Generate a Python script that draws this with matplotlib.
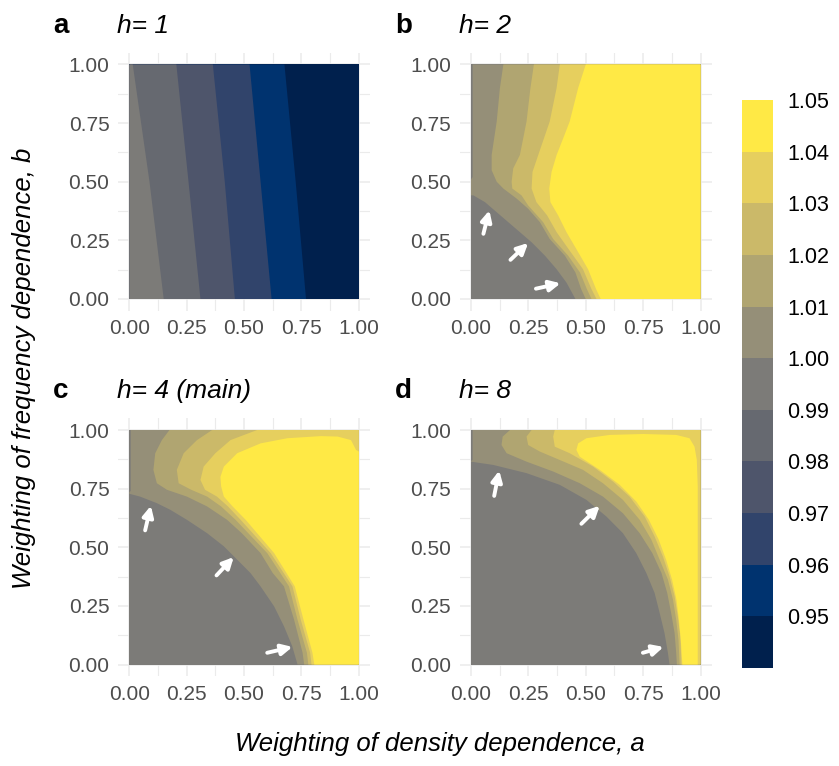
import numpy as np
import matplotlib
matplotlib.use("Agg")
import matplotlib.pyplot as plt
from matplotlib.colors import ListedColormap, BoundaryNorm
from matplotlib.colorbar import ColorbarBase

plt.rcParams['font.family'] = ['Liberation Sans', 'DejaVu Sans']

W, H = 839, 766

# binned fill scale
LEVELS = [0.94, 0.95, 0.96, 0.97, 0.98, 0.99, 1.00, 1.01, 1.02, 1.03, 1.04, 1.05]
BAND_COLORS = ['#00204D', '#00336F', '#31446B', '#4E556B', '#666970', '#7C7B78',
               '#958F78', '#B0A571', '#CBB969', '#E6CF5E', '#FFE945']
CBAR_TICKS = [0.95, 0.96, 0.97, 0.98, 0.99, 1.00, 1.01, 1.02, 1.03, 1.04, 1.05]

SQUARE = [(0, 0), (1, 0), (1, 1), (0, 1)]

# superlevel regions (a, b) for each contour level, h = 1
A_095 = [(0, 0), (0.77, 0), (0.725, 0.5), (0.676, 1), (0, 1)]
A_096 = [(0, 0), (0.62, 0), (0.572, 0.5), (0.524, 1), (0, 1)]
A_097 = [(0, 0), (0.46, 0), (0.416, 0.5), (0.364, 1), (0, 1)]
A_098 = [(0, 0), (0.31, 0), (0.258, 0.5), (0.205, 1), (0, 1)]
A_099 = [(0, 0), (0.15, 0), (0.088, 0.5), (0.015, 1), (0, 1)]

# h = 2
B_100 = [(0.007, 1), (0.007, 0.52), (0, 0.51), (0, 0.442), (0.010, 0.442), (0.061, 0.413),
         (0.112, 0.370), (0.162, 0.328), (0.213, 0.285), (0.264, 0.242), (0.322, 0.185),
         (0.373, 0.127), (0.416, 0.070), (0.455, 0), (1, 0), (1, 1)]
B_101 = [(0.141, 1), (0.126, 0.900), (0.112, 0.757), (0.090, 0.614), (0.090, 0.549),
         (0.112, 0.500), (0.141, 0.471), (0.199, 0.428), (0.249, 0.385), (0.300, 0.328),
         (0.343, 0.256), (0.409, 0.185), (0.455, 0.113), (0.480, 0.042), (0.500, 0),
         (1, 0), (1, 1)]
B_102 = [(0.274, 1), (0.259, 0.900), (0.242, 0.757), (0.213, 0.614), (0.184, 0.557),
         (0.177, 0.500), (0.180, 0.471), (0.220, 0.442), (0.249, 0.399), (0.314, 0.328),
         (0.358, 0.256), (0.423, 0.185), (0.475, 0.113), (0.505, 0.042), (0.525, 0),
         (1, 0), (1, 1)]
B_103 = [(0.387, 1), (0.373, 0.900), (0.343, 0.757), (0.293, 0.614), (0.268, 0.542),
         (0.264, 0.471), (0.285, 0.413), (0.332, 0.356), (0.373, 0.285), (0.425, 0.213),
         (0.488, 0.127), (0.525, 0.042), (0.547, 0), (1, 0), (1, 1)]
B_104 = [(0.500, 1), (0.467, 0.900), (0.430, 0.757), (0.402, 0.686), (0.373, 0.614),
         (0.351, 0.542), (0.341, 0.471), (0.346, 0.413), (0.380, 0.356), (0.416, 0.285),
         (0.459, 0.213), (0.510, 0.127), (0.545, 0.042), (0.565, 0), (1, 0), (1, 1)]

# h = 4
C_100 = [(0.006, 1), (0.006, 0.74), (0, 0.735), (0, 0.728), (0.047, 0.716), (0.120, 0.688),
         (0.178, 0.660), (0.251, 0.617), (0.339, 0.560), (0.412, 0.504), (0.470, 0.447),
         (0.528, 0.390), (0.572, 0.333), (0.631, 0.248), (0.674, 0.163), (0.710, 0.078),
         (0.733, 0), (1, 0), (1, 1)]
C_101 = [(0.175, 1), (0.142, 0.957), (0.113, 0.901), (0.105, 0.830), (0.120, 0.773),
         (0.164, 0.745), (0.251, 0.716), (0.339, 0.674), (0.426, 0.617), (0.490, 0.560),
         (0.572, 0.475), (0.625, 0.390), (0.674, 0.333), (0.718, 0.191), (0.755, 0.050),
         (0.762, 0), (1, 0), (1, 1)]
C_102 = [(0.361, 1), (0.295, 0.957), (0.237, 0.901), (0.207, 0.830), (0.215, 0.773),
         (0.270, 0.745), (0.339, 0.716), (0.400, 0.674), (0.463, 0.617), (0.601, 0.475),
         (0.696, 0.333), (0.733, 0.191), (0.774, 0.050), (0.780, 0), (1, 0), (1, 1)]
C_103 = [(0.557, 1), (0.441, 0.957), (0.375, 0.901), (0.324, 0.844), (0.310, 0.787),
         (0.330, 0.745), (0.382, 0.716), (0.430, 0.674), (0.485, 0.617), (0.616, 0.475),
         (0.711, 0.333), (0.747, 0.191), (0.788, 0.050), (0.794, 0), (1, 0), (1, 1)]
C_104 = [(1, 0.908), (0.988, 0.915), (0.966, 0.957), (0.908, 0.972), (0.835, 0.974),
         (0.689, 0.965), (0.572, 0.943), (0.470, 0.901), (0.412, 0.844), (0.397, 0.800),
         (0.400, 0.760), (0.412, 0.716), (0.450, 0.674), (0.507, 0.617), (0.631, 0.475),
         (0.721, 0.333), (0.759, 0.191), (0.798, 0.050), (0.806, 0), (1, 0)]

# h = 8
D_100 = [(0.007, 1), (0.007, 0.872), (0, 0.868), (0, 0.865), (0.097, 0.851), (0.242, 0.816),
         (0.387, 0.766), (0.503, 0.702), (0.590, 0.631), (0.662, 0.560), (0.720, 0.475),
         (0.764, 0.390), (0.800, 0.305), (0.822, 0.220), (0.843, 0.135), (0.858, 0.050),
         (0.865, 0), (1, 0), (1, 1)]
D_101 = [(0.170, 1), (0.138, 0.972), (0.133, 0.936), (0.155, 0.901), (0.242, 0.865),
         (0.358, 0.823), (0.474, 0.773), (0.575, 0.716), (0.662, 0.645), (0.735, 0.560),
         (0.790, 0.475), (0.830, 0.390), (0.855, 0.305), (0.872, 0.220), (0.887, 0.135),
         (0.894, 0.050), (0.897, 0), (1, 0), (1, 1)]
D_102 = [(0.264, 1), (0.242, 0.972), (0.249, 0.936), (0.300, 0.908), (0.387, 0.872),
         (0.488, 0.830), (0.575, 0.773), (0.662, 0.702), (0.735, 0.617), (0.786, 0.532),
         (0.822, 0.447), (0.858, 0.362), (0.880, 0.277), (0.894, 0.191), (0.904, 0.106),
         (0.909, 0), (1, 0), (1, 1)]
D_103 = [(0.365, 1), (0.358, 0.972), (0.365, 0.929), (0.430, 0.901), (0.532, 0.844),
         (0.619, 0.780), (0.691, 0.716), (0.757, 0.631), (0.800, 0.546), (0.836, 0.461),
         (0.865, 0.376), (0.887, 0.291), (0.901, 0.206), (0.912, 0.121), (0.917, 0),
         (1, 0), (1, 1)]
D_104 = [(0.988, 0), (0.988, 0.759), (0.984, 0.872), (0.974, 0.929), (0.952, 0.965),
         (0.894, 0.979), (0.750, 0.983), (0.604, 0.979), (0.503, 0.965), (0.467, 0.943),
         (0.459, 0.915), (0.474, 0.886), (0.561, 0.830), (0.648, 0.766), (0.720, 0.695),
         (0.775, 0.617), (0.818, 0.532), (0.850, 0.447), (0.876, 0.362), (0.895, 0.277),
         (0.906, 0.191), (0.914, 0.106), (0.921, 0)]

# arrows pointing at the 1.00 contour: tails and heads
B_TAILS = [(0.054, 0.278), (0.172, 0.167), (0.283, 0.044)]
B_HEADS = [(0.080, 0.378), (0.249, 0.239), (0.390, 0.067)]
C_TAILS = [(0.069, 0.572), (0.380, 0.380), (0.601, 0.050)]
C_HEADS = [(0.094, 0.677), (0.455, 0.458), (0.711, 0.075)]
D_TAILS = [(0.101, 0.719), (0.481, 0.600), (0.749, 0.050)]
D_HEADS = [(0.123, 0.827), (0.561, 0.677), (0.839, 0.075)]

TICKS = [0.00, 0.25, 0.50, 0.75, 1.00]
MINOR = [0.125, 0.375, 0.625, 0.875]

panels = [
    ('a', 'h= 1', 0.94, [(0.95, A_095), (0.96, A_096), (0.97, A_097), (0.98, A_098), (0.99, A_099)],
     [], [], (129.3, 64.5)),
    ('b', 'h= 2', 0.99, [(1.00, B_100), (1.01, B_101), (1.02, B_102), (1.03, B_103), (1.04, B_104)],
     B_TAILS, B_HEADS, (471.0, 64.5)),
    ('c', 'h= 4 (main)', 0.99, [(1.00, C_100), (1.01, C_101), (1.02, C_102), (1.03, C_103), (1.04, C_104)],
     C_TAILS, C_HEADS, (129.3, 430.0)),
    ('d', 'h= 8', 0.99, [(1.00, D_100), (1.01, D_101), (1.02, D_102), (1.03, D_103), (1.04, D_104)],
     D_TAILS, D_HEADS, (471.0, 430.0)),
]

SX, SY = 229.5, 234.5   # pixels per unit
EXP = 0.05


def band_color(lo):
    return BAND_COLORS[int(np.searchsorted(LEVELS, lo + 1e-9)) - 1]


def fig_rect(x0, y0, x1, y1):
    return [x0 / W, 1 - y1 / H, (x1 - x0) / W, (y1 - y0) / H]


fig = plt.figure(figsize=(W / 100, H / 100), dpi=100)

for letter, title, base, regions, tails, heads, (px0, py1) in panels:
    rect = fig_rect(px0 - EXP * SX, py1 - EXP * SY, px0 + (1 + EXP) * SX, py1 + (1 + EXP) * SY)
    ax = fig.add_axes(rect)
    ax.set_xlim(-EXP, 1 + EXP)
    ax.set_ylim(-EXP, 1 + EXP)
    for s in ax.spines.values():
        s.set_visible(False)
    ax.set_xticks(TICKS)
    ax.set_yticks(TICKS)
    ax.set_xticks(MINOR, minor=True)
    ax.set_yticks(MINOR, minor=True)
    ax.set_xticklabels(['%.2f' % t for t in TICKS])
    ax.set_yticklabels(['%.2f' % t for t in TICKS])
    ax.tick_params(which='both', length=0, labelsize=15, labelcolor='#4D4D4D', pad=6)
    ax.grid(which='major', color='#EBEBEB', lw=1.1)
    ax.grid(which='minor', color='#EBEBEB', lw=0.8)
    ax.set_axisbelow(True)

    xs, ys = zip(*SQUARE)
    ax.fill(xs, ys, color=band_color(base), lw=0, zorder=2)
    for lo, poly in regions:
        xs, ys = zip(*poly)
        ax.fill(xs, ys, color=band_color(lo), lw=0, zorder=2)

    for t, h in zip(tails, heads):
        ax.annotate('', xy=h, xytext=t,
                    arrowprops=dict(arrowstyle='-|>', color='white', lw=2.8,
                                    mutation_scale=16, shrinkA=0, shrinkB=0), zorder=5)

    ytxt = py1 - 31.5
    fig.text((px0 - 76) / W, 1 - ytxt / H, letter, fontsize=20, fontweight='bold', va='baseline')
    fig.text((px0 - 12) / W, 1 - ytxt / H, title, fontsize=19, style='italic', va='baseline')

fig.text(440 / W, 1 - 751 / H, 'Weighting of density dependence, a', fontsize=18.5,
         style='italic', ha='center', va='baseline')
fig.text(24 / W, 1 - 368 / H, 'Weighting of frequency dependence, b', fontsize=18.5,
         style='italic', ha='center', va='center', rotation=90)

cax = fig.add_axes(fig_rect(742, 100, 773, 668))
cb = ColorbarBase(cax, cmap=ListedColormap(BAND_COLORS), norm=BoundaryNorm(LEVELS, len(BAND_COLORS)),
                  boundaries=LEVELS, ticks=CBAR_TICKS, drawedges=False)
cb.outline.set_visible(False)
cax.minorticks_off()
cax.tick_params(which='both', length=0, labelsize=15.5, pad=10)
cax.set_yticklabels(['%.2f' % t for t in CBAR_TICKS])

fig.savefig('out.png', dpi=100)
